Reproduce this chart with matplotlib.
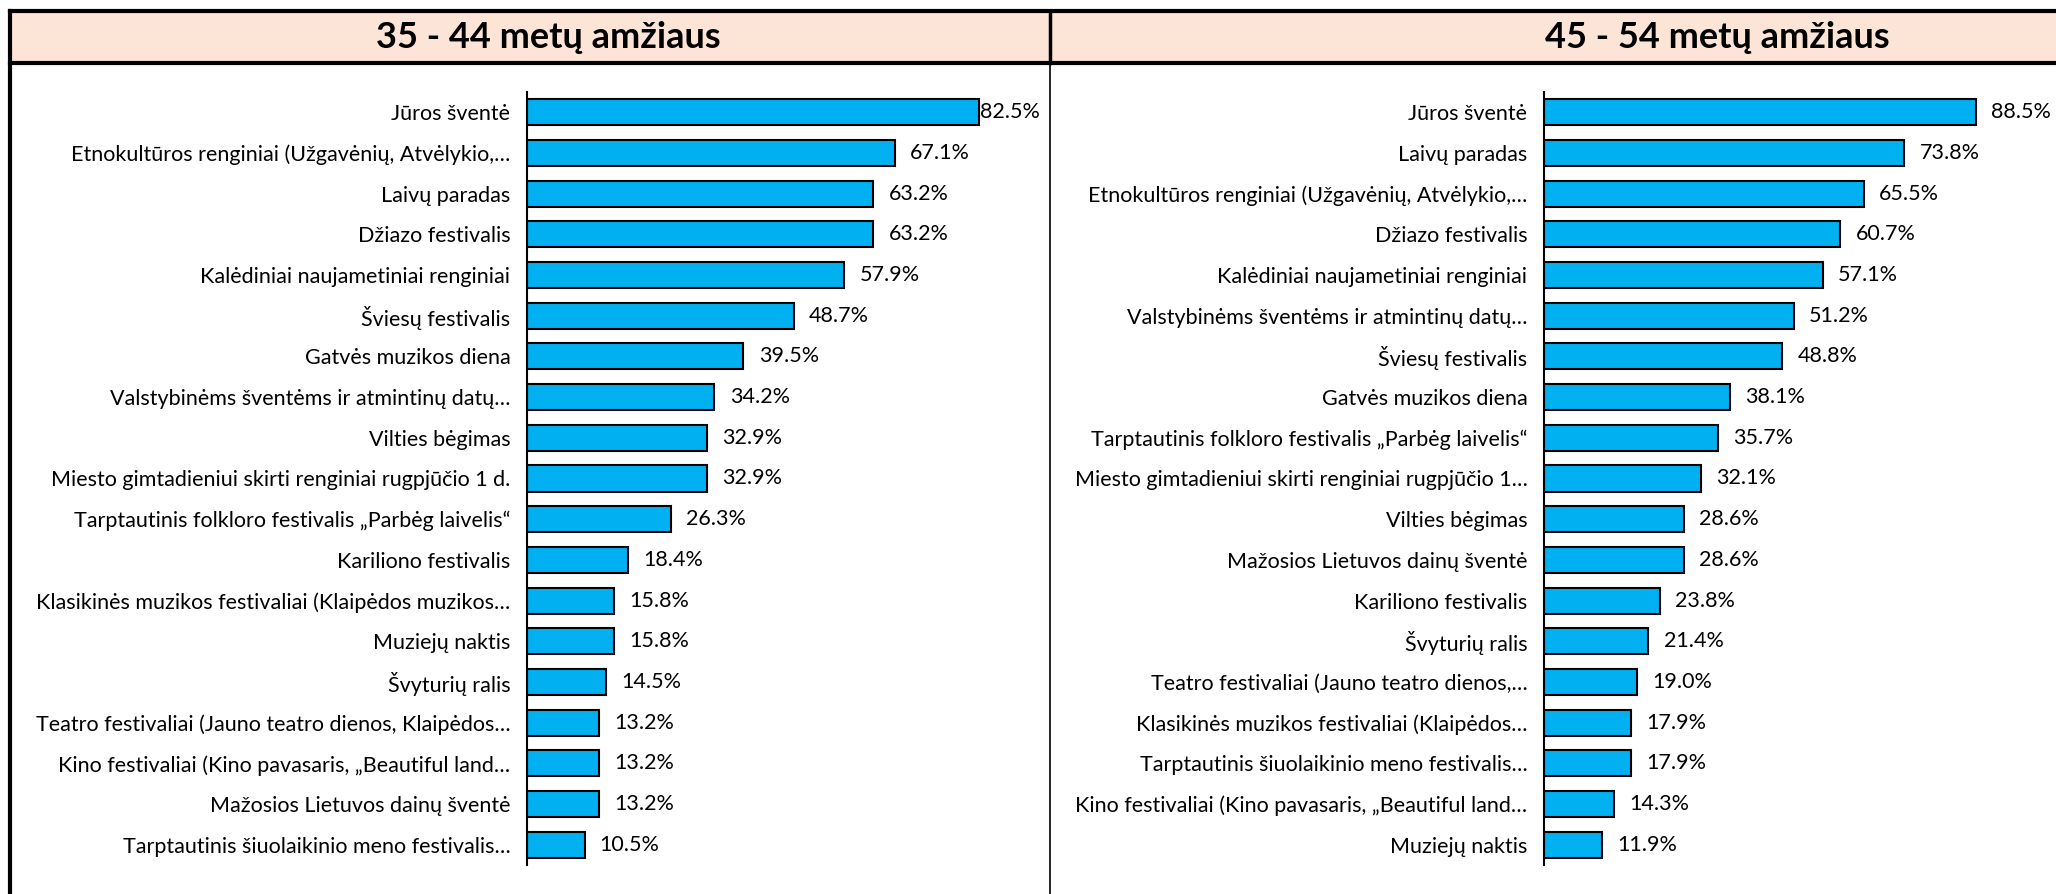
import matplotlib.pyplot as plt
from matplotlib.patches import Rectangle
from matplotlib.lines import Line2D

plt.rcParams['font.family'] = ['Lato', 'DejaVu Sans']

title_left = '35 - 44 metų amžiaus'
title_right = '45 - 54 metų amžiaus'

labels_left = [
    'Jūros šventė',
    'Etnokultūros renginiai (Užgavėnių, Atvėlykio,…',
    'Laivų paradas',
    'Džiazo festivalis',
    'Kalėdiniai naujametiniai renginiai',
    'Šviesų festivalis',
    'Gatvės muzikos diena',
    'Valstybinėms šventėms ir atmintinų datų…',
    'Vilties bėgimas',
    'Miesto gimtadieniui skirti renginiai rugpjūčio 1 d.',
    'Tarptautinis folkloro festivalis „Parbėg laivelis“',
    'Kariliono festivalis',
    'Klasikinės muzikos festivaliai (Klaipėdos muzikos…',
    'Muziejų naktis',
    'Švyturių ralis',
    'Teatro festivaliai (Jauno teatro dienos, Klaipėdos…',
    'Kino festivaliai (Kino pavasaris, „Beautiful land…',
    'Mažosios Lietuvos dainų šventė',
    'Tarptautinis šiuolaikinio meno festivalis…',
]
values_left = [82.5, 67.1, 63.2, 63.2, 57.9, 48.7, 39.5, 34.2, 32.9, 32.9,
               26.3, 18.4, 15.8, 15.8, 14.5, 13.2, 13.2, 13.2, 10.5]

labels_right = [
    'Jūros šventė',
    'Laivų paradas',
    'Etnokultūros renginiai (Užgavėnių, Atvėlykio,…',
    'Džiazo festivalis',
    'Kalėdiniai naujametiniai renginiai',
    'Valstybinėms šventėms ir atmintinų datų…',
    'Šviesų festivalis',
    'Gatvės muzikos diena',
    'Tarptautinis folkloro festivalis „Parbėg laivelis“',
    'Miesto gimtadieniui skirti renginiai rugpjūčio 1…',
    'Vilties bėgimas',
    'Mažosios Lietuvos dainų šventė',
    'Kariliono festivalis',
    'Švyturių ralis',
    'Teatro festivaliai (Jauno teatro dienos,…',
    'Klasikinės muzikos festivaliai (Klaipėdos…',
    'Tarptautinis šiuolaikinio meno festivalis…',
    'Kino festivaliai (Kino pavasaris, „Beautiful land…',
    'Muziejų naktis',
]
values_right = [88.5, 73.8, 65.5, 60.7, 57.1, 51.2, 48.8, 38.1, 35.7, 32.1,
                28.6, 28.6, 23.8, 21.4, 19.0, 17.9, 17.9, 14.3, 11.9]

W, H = 2056, 894
fig = plt.figure(figsize=(W / 100, H / 100), dpi=100)

# header band and frame lines (pixel coords -> figure fraction)
def fx(x):
    return x / W

def fy(y):
    return 1 - y / H

fig.patches.append(Rectangle((fx(10), fy(63)), fx(W) - fx(10), fy(11) - fy(63),
                             transform=fig.transFigure, facecolor='#FCE4D6',
                             edgecolor='none', zorder=0))
for xs, ys, lw in [((10, W), (11, 11), 3), ((10, W), (63, 63), 3),
                   ((10, 10), (11, H), 3), ((1050, 1050), (11, 63), 2.5),
                   ((1050, 1050), (63, H), 1.2)]:
    fig.lines.append(Line2D([fx(xs[0]), fx(xs[1])], [fy(ys[0]), fy(ys[1])],
                            transform=fig.transFigure, color='black', lw=lw))

fig.text(fx(548), fy(38), title_left, ha='center', va='center',
         fontsize=26, fontweight='bold')
fig.text(fx(1717), fy(38), title_right, ha='center', va='center',
         fontsize=26, fontweight='bold')


def panel(rect, labels, values, xmax):
    ax = fig.add_axes(rect)
    y = range(len(values))
    ax.barh(y, values, height=0.64, color='#00B0F0', edgecolor='black',
            linewidth=1.5)
    ax.set_xlim(0, xmax)
    ax.set_ylim(len(values) - 0.5, -0.5)
    ax.set_yticks(list(y))
    ax.set_yticklabels(labels, fontsize=15.5)
    ax.tick_params(axis='y', length=0, pad=12)
    ax.set_xticks([])
    for s in ['top', 'right', 'bottom']:
        ax.spines[s].set_visible(False)
    ax.spines['left'].set_linewidth(1.5)
    for i, v in enumerate(values):
        off = 1 if v / xmax > 0.9 else 11
        ax.annotate(f'{v:.1f}%', (v, i), xytext=(off, 0),
                    textcoords='offset points', va='center', ha='left',
                    fontsize=15.5, annotation_clip=False)
    return ax


bottom = 1 - 865 / H
height = (865 - 92) / H
panel([527 / W, bottom, 493 / W, height], labels_left, values_left, 90)
panel([1544 / W, bottom, 488 / W, height], labels_right, values_right, 100)

plt.savefig('out.png', dpi=100)
